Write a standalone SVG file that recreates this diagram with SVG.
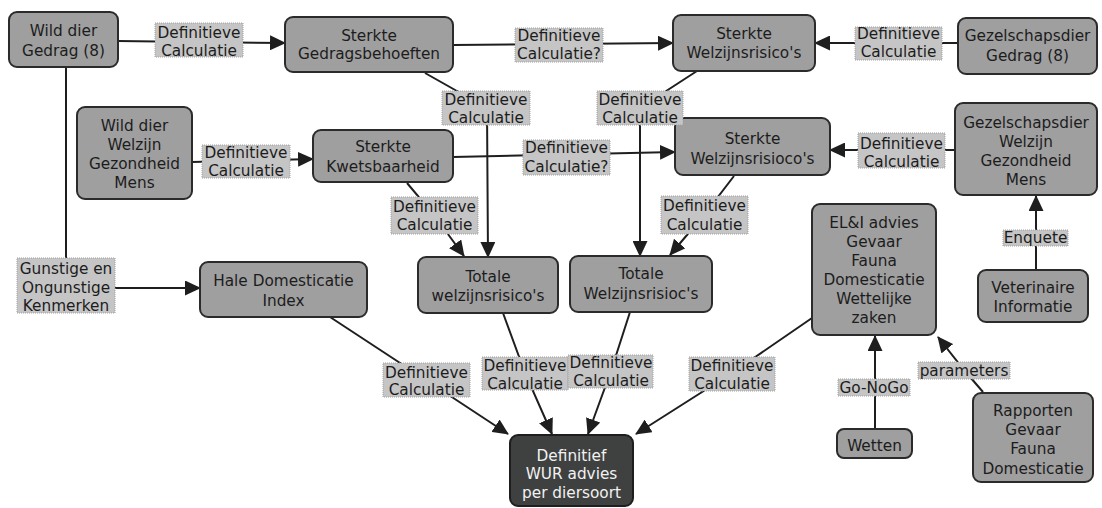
<svg xmlns="http://www.w3.org/2000/svg" width="1102" height="508" viewBox="0 0 1102 508">
<defs>
<style>
.n{fill:#9f9f9f;stroke:#2b2b2b;stroke-width:2}
.nd{fill:#3e4140;stroke:#1e1e1e;stroke-width:2}
.lb{fill:#c5c5c5;stroke:#a0a0a0;stroke-width:1;stroke-dasharray:1 1}
.e{fill:none;stroke:#1e1e1e;stroke-width:2}
text{font-family:"DejaVu Sans","Liberation Sans",sans-serif;font-size:15.3px;fill:#1c1c1c;text-anchor:middle}
.w{fill:#f2f2f2}
</style>
<marker id="ah" markerUnits="userSpaceOnUse" markerWidth="17" markerHeight="15" refX="15" refY="7.5" orient="auto">
<path d="M0,0 L16,7.5 L0,15 Z" fill="#1e1e1e"/>
</marker>
</defs>
<rect width="1102" height="508" fill="#ffffff"/>

<g id="connectors">
<path class="e" d="M118,41 L285,43" marker-end="url(#ah)"/>
<path class="e" d="M453,45 L673,43" marker-end="url(#ah)"/>
<path class="e" d="M958,43 L815,43" marker-end="url(#ah)"/>
<path class="e" d="M192,162 L313,159" marker-end="url(#ah)"/>
<path class="e" d="M453,157 L675,152" marker-end="url(#ah)"/>
<path class="e" d="M955,150 L830,150" marker-end="url(#ah)"/>
<path class="e" d="M66,67 L66,288 L200,288" marker-end="url(#ah)"/>
<path class="e" d="M425,73 L487,108 L488,257" marker-end="url(#ah)"/>
<path class="e" d="M697,71 L640,108 L640,256" marker-end="url(#ah)"/>
<path class="e" d="M407,183 L434,215 L464,256" marker-end="url(#ah)"/>
<path class="e" d="M734,176 L704,215 L670,255" marker-end="url(#ah)"/>
<path class="e" d="M330,317 L426,380 L508,434" marker-end="url(#ah)"/>
<path class="e" d="M503,313 L525,373 L552,434" marker-end="url(#ah)"/>
<path class="e" d="M630,312 L611,371 L588,434" marker-end="url(#ah)"/>
<path class="e" d="M812,318 L732,373 L636,434" marker-end="url(#ah)"/>
<path class="e" d="M1036,270 L1036,196" marker-end="url(#ah)"/>
<path class="e" d="M875,429 L875,336" marker-end="url(#ah)"/>
<path class="e" d="M983,392 L964,370 L938,337" marker-end="url(#ah)"/>
</g>

<g id="n1"><rect class="n" x="9" y="12" width="109" height="55" rx="8"/><text x="63.5" y="35.5">Wild dier</text><text x="63.5" y="55.5">Gedrag (8)</text></g>
<g id="n2"><rect class="n" x="285" y="17" width="168" height="55" rx="8"/><text x="369" y="40.5">Sterkte</text><text x="369" y="59">Gedragsbehoeften</text></g>
<g id="n3"><rect class="n" x="673" y="15" width="142" height="56" rx="8"/><text x="744" y="38.5">Sterkte</text><text x="744" y="57.5">Welzijnsrisico's</text></g>
<g id="n4"><rect class="n" x="958" y="18" width="139" height="56" rx="8"/><text x="1027.5" y="40.5">Gezelschapsdier</text><text x="1027.5" y="60.5">Gedrag (8)</text></g>
<g id="n5"><rect class="n" x="77" y="107" width="115" height="92" rx="8"/><text x="134.5" y="130.5">Wild dier</text><text x="134.5" y="149.5">Welzijn</text><text x="134.5" y="168.5">Gezondheid</text><text x="134.5" y="187.5">Mens</text></g>
<g id="n6"><rect class="n" x="313" y="130" width="140" height="52" rx="8"/><text x="383" y="152">Sterkte</text><text x="383" y="172">Kwetsbaarheid</text></g>
<g id="n7"><rect class="n" x="675" y="118" width="155" height="57" rx="8"/><text x="752.5" y="143.5">Sterkte</text><text x="752.5" y="163.5">Welzijnsrisioco's</text></g>
<g id="n8"><rect class="n" x="955" y="103" width="142" height="92" rx="8"/><text x="1026" y="127.5">Gezelschapsdier</text><text x="1026" y="146.5">Welzijn</text><text x="1026" y="165.5">Gezondheid</text><text x="1026" y="184.5">Mens</text></g>
<g id="n9"><rect class="n" x="200" y="262" width="167" height="55" rx="8"/><text x="283.5" y="285.5">Hale Domesticatie</text><text x="283.5" y="305.5">Index</text></g>
<g id="n10"><rect class="n" x="418" y="257" width="140" height="56" rx="8"/><text x="488" y="281.5">Totale</text><text x="488" y="300.5">welzijnsrisico's</text></g>
<g id="n11"><rect class="n" x="570" y="256" width="142" height="56" rx="8"/><text x="641" y="279">Totale</text><text x="641" y="298.5">Welzijnsrisioc's</text></g>
<g id="n12"><rect class="n" x="812" y="204" width="124" height="131" rx="8"/><text x="874" y="227.5">EL&amp;I advies</text><text x="874" y="246.5">Gevaar</text><text x="874" y="265.5">Fauna</text><text x="874" y="285">Domesticatie</text><text x="874" y="304">Wettelijke</text><text x="874" y="323">zaken</text></g>
<g id="n13"><rect class="n" x="978" y="270" width="110" height="52" rx="8"/><text x="1033" y="292.5">Veterinaire</text><text x="1033" y="311.5">Informatie</text></g>
<g id="n14"><rect class="n" x="837" y="429" width="75" height="29" rx="7"/><text x="874.5" y="450.5">Wetten</text></g>
<g id="n15"><rect class="n" x="973" y="393" width="120" height="89" rx="8"/><text x="1033" y="415.5">Rapporten</text><text x="1033" y="434.5">Gevaar</text><text x="1033" y="454">Fauna</text><text x="1033" y="473.5">Domesticatie</text></g>
<g id="n16"><rect class="nd" x="510" y="435" width="123" height="71" rx="8"/><text class="w" x="571.5" y="460.5">Definitief</text><text class="w" x="571.5" y="479">WUR advies</text><text class="w" x="571.5" y="497.5">per diersoort</text></g>

<g id="labels">
<g id="l1"><rect class="lb" x="155" y="23" width="88" height="34"/><text x="199" y="37.5">Definitieve</text><text x="199" y="55.5">Calculatie</text></g>
<g id="l2"><rect class="lb" x="515" y="28" width="88" height="34"/><text x="559" y="40.5">Definitieve</text><text x="559" y="59">Calculatie?</text></g>
<g id="l3"><rect class="lb" x="855" y="27" width="87" height="33"/><text x="898.5" y="38.5">Definitieve</text><text x="898.5" y="57">Calculatie</text></g>
<g id="l4"><rect class="lb" x="202" y="145" width="88" height="33"/><text x="246" y="158">Definitieve</text><text x="246" y="176">Calculatie</text></g>
<g id="l5"><rect class="lb" x="523" y="140" width="87" height="35"/><text x="566.5" y="152.5">Definitieve</text><text x="566.5" y="171.5">Calculatie?</text></g>
<g id="l6"><rect class="lb" x="858" y="133" width="87" height="35"/><text x="901.5" y="148.5">Definitieve</text><text x="901.5" y="167">Calculatie</text></g>
<g id="l7"><rect class="lb" x="442" y="91" width="88" height="34"/><text x="486" y="104.5">Definitieve</text><text x="486" y="122.5">Calculatie</text></g>
<g id="l8"><rect class="lb" x="597" y="91" width="86" height="34"/><text x="640" y="104.5">Definitieve</text><text x="640" y="123">Calculatie</text></g>
<g id="l9"><rect class="lb" x="391" y="197" width="87" height="37"/><text x="434.5" y="212">Definitieve</text><text x="434.5" y="230">Calculatie</text></g>
<g id="l10"><rect class="lb" x="661" y="196" width="87" height="38"/><text x="704.5" y="210.5">Definitieve</text><text x="704.5" y="229.5">Calculatie</text></g>
<g id="l11"><rect class="lb" x="17" y="258" width="98" height="55"/><text x="66" y="273.5">Gunstige en</text><text x="66" y="292.5">Ongunstige</text><text x="66" y="311">Kenmerken</text></g>
<g id="l12"><rect class="lb" x="383" y="363" width="87" height="34"/><text x="426.5" y="377.5">Definitieve</text><text x="426.5" y="395">Calculatie</text></g>
<g id="l13"><rect class="lb" x="482" y="357" width="86" height="33"/><text x="525" y="370.5">Definitieve</text><text x="525" y="388.5">Calculatie</text></g>
<g id="l14"><rect class="lb" x="568" y="355" width="85" height="33"/><text x="611" y="367.5">Definitieve</text><text x="611" y="385.5">Calculatie</text></g>
<g id="l15"><rect class="lb" x="689" y="357" width="86" height="34"/><text x="732" y="370.5">Definitieve</text><text x="732" y="388.5">Calculatie</text></g>
<g id="l16"><rect class="lb" x="1003" y="230" width="65" height="16"/><text x="1035.5" y="243">Enquete</text></g>
<g id="l17"><rect class="lb" x="838" y="379" width="72" height="17"/><text x="874" y="392.5">Go-NoGo</text></g>
<g id="l18"><rect class="lb" x="918" y="362" width="92" height="17"/><text x="964" y="375.5">parameters</text></g>
</g>
</svg>
